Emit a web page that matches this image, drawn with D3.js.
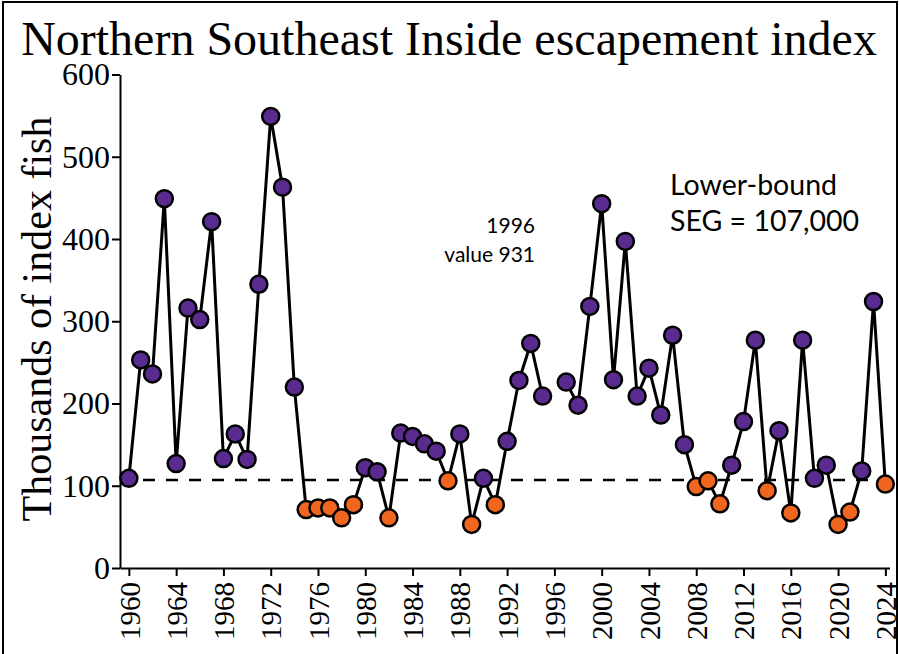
<!DOCTYPE html>
<html>
<head>
<meta charset="utf-8">
<script src="https://cdn.jsdelivr.net/npm/d3@7"></script>
<style>
  body { margin: 0; background: #fff; }
  svg { display: block; }
  .axis path, .axis line { stroke: #000; stroke-width: 2; }
  .axis text { font-family: "Liberation Serif", "Times New Roman", serif; fill: #000; }
</style>
</head>
<body>
<div id="chart"></div>
<script>
// escapement index, thousands of fish (1996 is off the scale, shown as a note)
var years = d3.range(1960, 2025);
var values = [
  109, 253, 236, 449, 127, 316, 302, 421, 133, 163,
  132, 345, 549, 463, 220, 71, 73, 73, 61, 77,
  122, 117, 61, 164, 160, 151, 142, 106, 163, 53,
  109, 77, 154, 228, 273, 209, null, 226, 198, 318,
  443, 229, 397, 209, 243, 186, 283, 150, 99, 106,
  78, 125, 178, 277, 94, 167, 67, 277, 109, 125,
  53, 68, 118, 324, 102
];
var seg = 107;
var yTicks = [0, 100, 200, 300, 400, 500, 600];
var xTicks = d3.range(1960, 2025, 4);
var note1996 = ["1996", "value 931"];
var segNote = ["Lower-bound", "SEG = 107,000"];

var data = years.map(function(y, i) { return {year: y, value: values[i]}; });

var W = 899, H = 654;

var svg = d3.select("#chart").append("svg")
  .attr("width", W)
  .attr("height", H);

// outer frame (no bottom edge visible)
svg.append("path")
  .attr("d", "M3,660 L3,2 L897,2 L897,660")
  .attr("fill", "none")
  .attr("stroke", "#000")
  .attr("stroke-width", 2);

var x = d3.scaleLinear()
  .domain([1959.25, 2024.35])
  .range([120, 889.5]);

var y = d3.scaleLinear()
  .domain([0, 600])
  .range([568, 74.5]);

// title
svg.append("text")
  .attr("x", 449)
  .attr("y", 55)
  .attr("text-anchor", "middle")
  .style("font-family", "Liberation Serif, serif")
  .style("font-size", "48px")
  .text("Northern Southeast Inside escapement index");

// y axis label
svg.append("text")
  .attr("transform", "translate(51," + 319 + ") rotate(-90)")
  .attr("text-anchor", "middle")
  .style("font-family", "Liberation Serif, serif")
  .style("font-size", "42px")
  .text("Thousands of index fish");

// axes
svg.append("g")
  .attr("class", "axis")
  .attr("transform", "translate(0,568)")
  .call(d3.axisBottom(x).tickValues(xTicks).tickSize(8).tickSizeOuter(0).tickFormat(d3.format("d")))
  .selectAll("text")
  .style("font-size", "29px")
  .attr("transform", "rotate(-90)")
  .attr("text-anchor", "end")
  .attr("x", -14)
  .attr("y", 0)
  .attr("dy", "0.35em");

svg.append("g")
  .attr("class", "axis")
  .attr("transform", "translate(120,0)")
  .call(d3.axisLeft(y).tickValues(yTicks).tickSize(8).tickSizeOuter(0))
  .selectAll("text")
  .style("font-size", "32px")
  .attr("x", -10);

// SEG dashed line
svg.append("line")
  .attr("x1", x.range()[0])
  .attr("x2", x.range()[1])
  .attr("y1", y(seg))
  .attr("y2", y(seg))
  .attr("stroke", "#000")
  .attr("stroke-width", 2.5)
  .attr("stroke-dasharray", "12,11");

// series line, broken at 1996
var line = d3.line()
  .defined(function(d) { return d.value != null; })
  .x(function(d) { return x(d.year); })
  .y(function(d) { return y(d.value); });

svg.append("path")
  .datum(data)
  .attr("d", line)
  .attr("fill", "none")
  .attr("stroke", "#000")
  .attr("stroke-width", 3)
  .attr("stroke-linejoin", "round");

svg.selectAll(".dot")
  .data(data.filter(function(d) { return d.value != null; }))
  .enter().append("circle")
  .attr("class", "dot")
  .attr("cx", function(d) { return x(d.year); })
  .attr("cy", function(d) { return y(d.value); })
  .attr("r", 8.5)
  .attr("fill", function(d) { return d.value < seg ? "#f0661f" : "#5a2b8f"; })
  .attr("stroke", "#000")
  .attr("stroke-width", 2.5);

// notes
svg.selectAll(".note96")
  .data(note1996)
  .enter().append("text")
  .attr("class", "note96")
  .attr("x", 535)
  .attr("y", function(d, i) { return 233 + i * 29; })
  .attr("text-anchor", "end")
  .style("font-family", "Lato, sans-serif")
  .style("font-size", "21px")
  .text(function(d) { return d; });

svg.selectAll(".segnote")
  .data(segNote)
  .enter().append("text")
  .attr("class", "segnote")
  .attr("x", 670)
  .attr("y", function(d, i) { return 195 + i * 36; })
  .style("font-family", "Lato, sans-serif")
  .style("font-size", "28.5px")
  .text(function(d) { return d; });
</script>
</body>
</html>
